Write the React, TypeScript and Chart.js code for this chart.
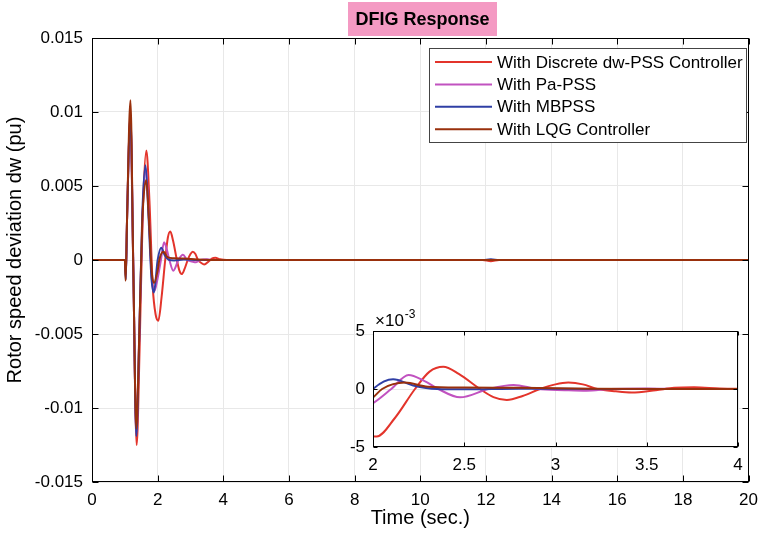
import React, { useEffect, useRef } from "react";
import { Chart, registerables } from "chart.js";

Chart.register(...registerables);

const FONT = '"Liberation Sans", Arial, Helvetica, sans-serif';

const chartTitle = "DFIG Response";
const xAxisTitle = "Time (sec.)";
const yAxisTitle = "Rotor speed deviation dw (pu)";

const seriesNames = [
  "With Discrete dw-PSS Controller",
  "With Pa-PSS",
  "With MBPSS",
  "With LQG Controller",
];
const seriesColors = ["#e3342b", "#c152c0", "#2f3fa5", "#99300c"];

// With Discrete dw-PSS Controller
const redTime = [0, 0.5, 1.0, 1.03, 1.07, 1.17, 1.26, 1.36, 1.45, 1.55, 1.655, 1.75, 1.85, 1.94, 2.02, 2.12, 2.23, 2.31, 2.385, 2.47, 2.586, 2.66, 2.733, 2.82, 2.915, 3.0, 3.07, 3.15, 3.23, 3.33, 3.417, 3.55, 3.65, 3.76, 3.9, 4.1, 5, 8, 11.9, 12.15, 12.4, 13, 16, 20];
const redValues = [0, 0, 0, -0.001, 0.003, 0.0095, -0.001, -0.0125, -0.006, 0.0035, 0.0074, 0.004, -0.0018, -0.0037, -0.0041, -0.0025, 0, 0.0015, 0.00192, 0.0013, 0, -0.0007, -0.00095, -0.0006, 0, 0.0004, 0.00055, 0.0004, 0, -0.0002, -0.0003, -0.0001, 0.0001, 0.00015, 0.00005, 0, 0, 0, 0, -0.00008, 0, 0, 0, 0];

// With Pa-PSS
const pinkTime = [0, 0.5, 1.0, 1.03, 1.07, 1.17, 1.26, 1.35, 1.44, 1.54, 1.64, 1.73, 1.82, 1.9, 2.0, 2.1, 2.195, 2.28, 2.358, 2.477, 2.632, 2.77, 2.9, 3.05, 3.17, 3.3, 3.5, 3.7, 4.1, 5, 8, 12, 16, 20];
const pinkValues = [0, 0, 0, -0.0012, 0.003, 0.0098, -0.0005, -0.0117, -0.005, 0.003, 0.0062, 0.003, -0.0012, -0.0021, -0.00123, 0, 0.0012, 0.0007, 0, -0.00072, 0, 0.00035, 0, -0.0001, -0.00015, 0, 0.00005, 0, 0, 0, 0, 0, 0, 0];

// With MBPSS
const blueTime = [0, 0.5, 1.0, 1.03, 1.07, 1.17, 1.26, 1.35, 1.44, 1.53, 1.63, 1.72, 1.81, 1.885, 2.0, 2.11, 2.22, 2.35, 2.5, 2.8, 3.2, 4, 8, 11.9, 12.15, 12.4, 16, 20];
const blueValues = [0, 0, 0, -0.0013, 0.003, 0.0097, -0.0008, -0.0119, -0.0052, 0.003, 0.0064, 0.003, -0.0012, -0.0022, 0, 0.00083, 0.0003, 0, -0.00003, 0.00003, 0, 0, 0, 0, 0.00005, 0, 0, 0];

// With LQG Controller
const brownTime = [0, 0.5, 1.0, 1.025, 1.06, 1.171, 1.26, 1.35, 1.44, 1.53, 1.65, 1.74, 1.82, 1.89, 2.0, 2.05, 2.175, 2.3, 2.5, 2.8, 3.2, 3.6, 4.2, 8, 12, 16, 20];
const brownValues = [0, 0, 0, -0.0014, 0.002, 0.0108, -0.0008, -0.0114, -0.005, 0.0025, 0.0054, 0.0025, -0.0008, -0.00155, -0.00072, 0, 0.00055, 0.0002, 0.00012, 0.0001, 0.00003, 0, 0, 0, 0, 0, 0];

const seriesTimes = [redTime, pinkTime, blueTime, brownTime];
const seriesValues = [redValues, pinkValues, blueValues, brownValues];

const mainYTicks = [-0.015, -0.01, -0.005, 0, 0.005, 0.01, 0.015];
const insetXTickLabels = ["2", "2.5", "3", "3.5", "4"];
const insetExponent = "-3";

function buildDatasets(scale: number, tMin: number, tMax: number) {
  return seriesNames.map((name, i) => {
    const pts: { x: number; y: number }[] = [];
    seriesTimes[i].forEach((t, k) => {
      if (t >= tMin && t <= tMax) pts.push({ x: t, y: seriesValues[i][k] * scale });
    });
    return {
      label: name,
      data: pts,
      borderColor: seriesColors[i],
      backgroundColor: seriesColors[i],
      borderWidth: 2,
      pointRadius: 0,
      fill: false,
      cubicInterpolationMode: "monotone" as const,
      order: 4 - i,
    };
  });
}

function boxPlugin(tickLen: number, fillWhite: boolean) {
  return {
    id: "boxTicks",
    beforeDraw(chart: any) {
      if (!fillWhite) return;
      const a = chart.chartArea;
      const ctx = chart.ctx;
      ctx.save();
      ctx.fillStyle = "#ffffff";
      ctx.fillRect(a.left, a.top, a.right - a.left, a.bottom - a.top);
      ctx.restore();
    },
    afterDatasetsDraw(chart: any) {
      const a = chart.chartArea;
      const ctx = chart.ctx;
      ctx.save();
      ctx.strokeStyle = "#000000";
      ctx.lineWidth = 1;
      const L = Math.round(a.left) + 0.5;
      const R = Math.round(a.right) - 0.5;
      const T = Math.round(a.top) + 0.5;
      const B = Math.round(a.bottom) - 0.5;
      ctx.strokeRect(L, T, R - L, B - T);
      ctx.beginPath();
      const xs = chart.scales.x;
      xs.ticks.forEach((tk: any) => {
        const px = Math.round(xs.getPixelForValue(tk.value)) + 0.5;
        ctx.moveTo(px, B);
        ctx.lineTo(px, B - tickLen);
        ctx.moveTo(px, T);
        ctx.lineTo(px, T + tickLen);
      });
      const ys = chart.scales.y;
      ys.ticks.forEach((tk: any) => {
        const py = Math.round(ys.getPixelForValue(tk.value)) + 0.5;
        ctx.moveTo(L, py);
        ctx.lineTo(L + tickLen, py);
        ctx.moveTo(R, py);
        ctx.lineTo(R - tickLen, py);
      });
      ctx.stroke();
      ctx.restore();
    },
  };
}

const mainDecorPlugin = {
  id: "mainDecor",
  afterDraw(chart: any) {
    const ctx = chart.ctx;
    const a = chart.chartArea;
    ctx.save();
    // title box
    ctx.fillStyle = "#f49ac3";
    ctx.fillRect(348, 2, 149, 34);
    ctx.fillStyle = "#000";
    ctx.font = `bold 18px ${FONT}`;
    ctx.textAlign = "center";
    ctx.textBaseline = "middle";
    ctx.fillText(chartTitle, 422.5, 20);
    // axis titles
    ctx.font = `20px ${FONT}`;
    ctx.fillText(xAxisTitle, (a.left + a.right) / 2, 518);
    ctx.save();
    ctx.translate(15, 250);
    ctx.rotate(-Math.PI / 2);
    ctx.fillText(yAxisTitle, 0, 0);
    ctx.restore();
    // legend
    const lx = 429.5, ly = 48.5, lw = 317, lh = 94;
    ctx.fillStyle = "#fff";
    ctx.fillRect(lx, ly, lw, lh);
    ctx.strokeStyle = "#444";
    ctx.lineWidth = 1;
    ctx.strokeRect(lx, ly, lw, lh);
    ctx.font = `17px ${FONT}`;
    ctx.textAlign = "left";
    seriesNames.forEach((name, i) => {
      const y = 62 + i * 22.4;
      ctx.strokeStyle = seriesColors[i];
      ctx.lineWidth = 2;
      ctx.beginPath();
      ctx.moveTo(435, y);
      ctx.lineTo(492, y);
      ctx.stroke();
      ctx.fillStyle = "#000";
      ctx.fillText(name, 497, y + 1);
    });
    ctx.restore();
  },
};

const insetDecorPlugin = {
  id: "insetDecor",
  afterDraw(chart: any) {
    const ctx = chart.ctx;
    const a = chart.chartArea;
    ctx.save();
    ctx.fillStyle = "#000";
    ctx.textAlign = "left";
    ctx.textBaseline = "alphabetic";
    ctx.font = `17px ${FONT}`;
    ctx.fillText("\u00d710", a.left + 2, a.top - 5);
    const w = ctx.measureText("\u00d710").width;
    ctx.font = `12px ${FONT}`;
    ctx.fillText(insetExponent, a.left + 2 + w + 1, a.top - 13);
    ctx.restore();
  },
};

function fmtMain(v: number) {
  return String(Number(Number(v).toFixed(3)));
}

export default function App() {
  const mainRef = useRef<HTMLCanvasElement>(null);
  const insetRef = useRef<HTMLCanvasElement>(null);

  useEffect(() => {
    const tickFont = { family: FONT, size: 17 };
    const main = new Chart(mainRef.current as HTMLCanvasElement, {
      type: "line",
      data: { datasets: buildDatasets(1, 0, 20) as any },
      options: {
        animation: false,
        responsive: false,
        maintainAspectRatio: false,
        layout: { padding: { left: 0, right: 13, top: 38, bottom: 0 } },
        plugins: { legend: { display: false }, tooltip: { enabled: false }, title: { display: false } },
        scales: {
          x: {
            type: "linear",
            min: 0,
            max: 20,
            ticks: { stepSize: 2, font: tickFont, color: "#000", padding: 8, maxRotation: 0, autoSkip: false },
            grid: { color: "#e8e8e8", drawTicks: false },
            border: { display: false },
            afterFit: (s: any) => { s.height = 60; },
          },
          y: {
            type: "linear",
            min: -0.015,
            max: 0.015,
            afterBuildTicks: (s: any) => { s.ticks = mainYTicks.map((v) => ({ value: v })); },
            ticks: { font: tickFont, color: "#000", padding: 9, callback: (v: any) => fmtMain(v) },
            grid: { color: "#e8e8e8", drawTicks: false },
            border: { display: false },
            afterFit: (s: any) => { s.width = 92; },
          },
        },
      } as any,
      plugins: [boxPlugin(6, false), mainDecorPlugin],
    });

    const inset = new Chart(insetRef.current as HTMLCanvasElement, {
      type: "line",
      data: { datasets: buildDatasets(1000, 1.8, 4.3) as any },
      options: {
        animation: false,
        responsive: false,
        maintainAspectRatio: false,
        layout: { padding: { left: 0, right: 22, top: 26, bottom: 0 } },
        plugins: { legend: { display: false }, tooltip: { enabled: false }, title: { display: false } },
        scales: {
          x: {
            type: "linear",
            min: 2,
            max: 4,
            ticks: {
              stepSize: 0.5,
              font: tickFont,
              color: "#000",
              padding: 8,
              maxRotation: 0,
              autoSkip: false,
              callback: (v: any, i: number) => insetXTickLabels[i] ?? String(v),
            },
            grid: { color: "#e8e8e8", drawTicks: false },
            border: { display: false },
            afterFit: (s: any) => { s.height = 38; },
          },
          y: {
            type: "linear",
            min: -5,
            max: 5,
            ticks: { stepSize: 5, font: tickFont, color: "#000", padding: 8 },
            grid: { color: "#e8e8e8", drawTicks: false },
            border: { display: false },
            afterFit: (s: any) => { s.width = 43; },
          },
        },
      } as any,
      plugins: [boxPlugin(4, true), insetDecorPlugin],
    });

    return () => {
      main.destroy();
      inset.destroy();
    };
  }, []);

  return (
    <div style={{ position: "absolute", left: 0, top: 0, width: 766, height: 542, background: "#fff" }}>
      <canvas ref={mainRef} width={766} height={542} style={{ position: "absolute", left: 0, top: 0, width: 766, height: 542 }} />
      <canvas ref={insetRef} width={430} height={180} style={{ position: "absolute", left: 330, top: 305, width: 430, height: 180 }} />
    </div>
  );
}
